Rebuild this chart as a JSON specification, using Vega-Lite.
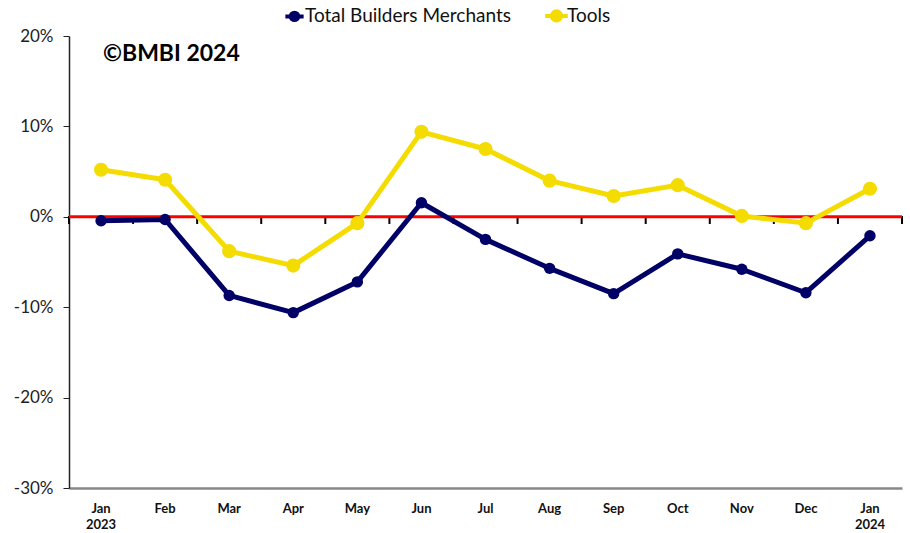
{
  "$schema": "https://vega.github.io/schema/vega-lite/v6.json",
  "autosize": "none",
  "width": 833,
  "height": 452,
  "padding": {"left": 69, "top": 36, "right": 8, "bottom": 45},
  "background": "white",
  "config": {
    "font": "Lato",
    "view": {"stroke": null}
  },
  "datasets": {
    "series": [
      {"month": "Jan 2023", "series": "Total Builders Merchants", "value": -0.0044},
      {"month": "Feb", "series": "Total Builders Merchants", "value": -0.003},
      {"month": "Mar", "series": "Total Builders Merchants", "value": -0.087},
      {"month": "Apr", "series": "Total Builders Merchants", "value": -0.106},
      {"month": "May", "series": "Total Builders Merchants", "value": -0.072},
      {"month": "Jun", "series": "Total Builders Merchants", "value": 0.0155},
      {"month": "Jul", "series": "Total Builders Merchants", "value": -0.025},
      {"month": "Aug", "series": "Total Builders Merchants", "value": -0.057},
      {"month": "Sep", "series": "Total Builders Merchants", "value": -0.085},
      {"month": "Oct", "series": "Total Builders Merchants", "value": -0.041},
      {"month": "Nov", "series": "Total Builders Merchants", "value": -0.058},
      {"month": "Dec", "series": "Total Builders Merchants", "value": -0.084},
      {"month": "Jan 2024", "series": "Total Builders Merchants", "value": -0.021},
      {"month": "Jan 2023", "series": "Tools", "value": 0.052},
      {"month": "Feb", "series": "Tools", "value": 0.041},
      {"month": "Mar", "series": "Tools", "value": -0.038},
      {"month": "Apr", "series": "Tools", "value": -0.054},
      {"month": "May", "series": "Tools", "value": -0.007},
      {"month": "Jun", "series": "Tools", "value": 0.094},
      {"month": "Jul", "series": "Tools", "value": 0.075},
      {"month": "Aug", "series": "Tools", "value": 0.040},
      {"month": "Sep", "series": "Tools", "value": 0.023},
      {"month": "Oct", "series": "Tools", "value": 0.035},
      {"month": "Nov", "series": "Tools", "value": 0.001},
      {"month": "Dec", "series": "Tools", "value": -0.007},
      {"month": "Jan 2024", "series": "Tools", "value": 0.031}
    ]
  },
  "encoding": {
    "x": {
      "field": "month", "type": "ordinal", "sort": null,
      "scale": {"type": "band", "paddingInner": 0, "paddingOuter": 0},
      "axis": {
        "orient": "bottom", "bandPosition": 0.5,
        "title": null, "labelAngle": 0, "ticks": false, "grid": false,
        "domainColor": "#888888", "domainWidth": 2.5,
        "labelFontWeight": "bold", "labelFontSize": 13, "labelAlign": "center",
        "labelColor": "#111111", "labelPadding": 14, "labelLineHeight": 16,
        "labelExpr": "split(datum.label, ' ')"
      }
    }
  },
  "layer": [
    {
      "data": {"name": "series"},
      "transform": [{"filter": "datum.series === 'Tools'"}],
      "mark": {"type": "tick", "orient": "vertical", "color": "#000000", "thickness": 2, "size": 8, "opacity": 1},
      "encoding": {
        "x": {"field": "month", "type": "ordinal", "sort": null, "bandPosition": 0},
        "y": {"datum": -0.0035, "type": "quantitative"}
      }
    },
    {
      "data": {"name": "series"},
      "transform": [{"filter": "datum.month === 'Jan 2024' && datum.series === 'Tools'"}],
      "mark": {"type": "tick", "orient": "vertical", "color": "#000000", "thickness": 2, "size": 8, "opacity": 1},
      "encoding": {
        "x": {"field": "month", "type": "ordinal", "sort": null, "bandPosition": 1},
        "y": {"datum": -0.0035, "type": "quantitative"}
      }
    },
    {
      "data": {"values": [{"y": 0}]},
      "mark": {"type": "rule", "color": "#ff0000", "strokeWidth": 3},
      "encoding": {"x": null, "y": {"field": "y", "type": "quantitative"}}
    },
    {
      "data": {"name": "series"},
      "mark": {"type": "line", "strokeWidth": 5, "strokeJoin": "round"},
      "encoding": {
        "y": {
          "field": "value", "type": "quantitative",
          "scale": {"domain": [-0.3, 0.2], "nice": false, "zero": false},
          "axis": {
            "title": null, "values": [-0.3, -0.2, -0.1, 0, 0.1, 0.2],
            "labelExpr": "(datum.value < 0 ? '-' : '') + round(abs(datum.value) * 100) + '%'",
            "gridColor": "#222222", "gridWidth": 1, "gridOpacity": 1,
            "domainColor": "#222222", "domainWidth": 1.5,
            "tickColor": "#222222", "tickSize": 6,
            "labelFontSize": 17, "labelColor": "#222222", "labelPadding": 10
          }
        },
        "color": {
          "field": "series", "type": "nominal", "sort": ["Total Builders Merchants", "Tools"],
          "scale": {"domain": ["Total Builders Merchants", "Tools"], "range": ["#000066", "#f5dc00"]},
          "legend": {
            "title": null, "orient": "none", "legendX": 216, "legendY": -30,
            "direction": "horizontal",
            "labelFontSize": 19, "labelColor": "#111111", "labelLimit": 0,
            "symbolType": "M-1.6,0L1.6,0M-0.65,0A0.65,0.65 0 1,0 0.65,0A0.65,0.65 0 1,0 -0.65,0Z",
            "symbolSize": 850, "symbolStrokeWidth": 4,
            "columnPadding": 26, "labelOffset": 1
          }
        }
      }
    },
    {
      "data": {"name": "series"},
      "mark": {"type": "point", "filled": true, "opacity": 1},
      "encoding": {
        "y": {"field": "value", "type": "quantitative"},
        "color": {"field": "series", "type": "nominal", "legend": null},
        "size": {
          "field": "series", "type": "nominal", "legend": null,
          "scale": {"domain": ["Total Builders Merchants", "Tools"], "range": [130, 200]}
        }
      }
    },
    {
      "data": {"values": [{"month": "Jan 2023", "y": 0.18, "label": "©BMBI 2024"}]},
      "mark": {"type": "text", "align": "left", "baseline": "middle", "fontSize": 23, "fontWeight": "bold", "color": "#000000", "dx": 2},
      "encoding": {
        "y": {"field": "y", "type": "quantitative"},
        "text": {"field": "label"}
      }
    }
  ]
}
